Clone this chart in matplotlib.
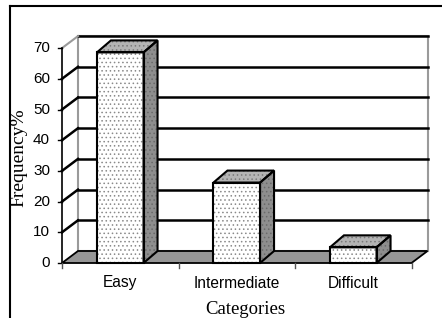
import matplotlib.pyplot as plt
from matplotlib.patches import Polygon

categories = ["Easy", "Intermediate", "Difficult"]
frequency = [68.6, 26.2, 5.1]
y_ticks = [0, 10, 20, 30, 40, 50, 60, 70]

plt.rcParams["hatch.linewidth"] = 0.6

W, H = 442, 318
fig = plt.figure(figsize=(W / 100, H / 100), dpi=100)
ax = fig.add_axes([0, 0, 1, 1])

# pixel scale of the front plane
px_x = 116.5   # px per category
px_y = 3.07    # px per percent
ax.set_xlim(-0.5 - 62 / px_x, -0.5 + (W - 62) / px_x)
ax.set_ylim(-55 / px_y, (H - 55) / px_y)
ax.axis("off")

# depth offsets (walls / bars)
dxw, dyw = 16 / px_x, 12 / px_y
dxb, dyb = 14 / px_x, 12 / px_y
x0, x1 = -0.5, len(categories) - 0.5
ymax = y_ticks[-1]
wall_grey = "#9a9a9a"

# back wall
ax.add_patch(Polygon([(x0 + dxw, dyw), (x1 + dxw, dyw), (x1 + dxw, ymax + dyw),
                      (x0 + dxw, ymax + dyw)], closed=True, fc="white",
                     ec=wall_grey, lw=1.5, zorder=1))
for t in y_ticks[1:]:
    ax.plot([x0 + dxw, x1 + dxw], [t + dyw, t + dyw], color="black", lw=1.8, zorder=2)
# side wall
for t in y_ticks[1:-1]:
    ax.plot([x0, x0 + dxw], [t, t + dyw], color="black", lw=1.8, zorder=2)
ax.plot([x0, x0 + dxw], [ymax, ymax + dyw], color=wall_grey, lw=1.5, zorder=2)

# floor
ax.add_patch(Polygon([(x0, 0), (x1, 0), (x1 + dxw, dyw), (x0 + dxw, dyw)], closed=True,
                     fc="#969696", ec="black", lw=1.3, zorder=3))

# front value axis
ax.plot([x0, x0], [0, ymax], color="black", lw=1.2, zorder=6)
for t in y_ticks:
    ax.plot([x0 - 4 / px_x, x0], [t, t], color="black", lw=1.0, zorder=6)
    ax.text(x0 - 12 / px_x, t, str(t), ha="right", va="center",
            family="Liberation Sans", fontsize=11)

# category ticks and labels
for k in range(len(categories) + 1):
    ax.plot([x0 + k, x0 + k], [0, -5 / px_y], color="#555555", lw=1.0, zorder=6)
for i, c in enumerate(categories):
    ax.text(i, -20 / px_y, c, ha="center", va="center",
            family="Liberation Sans", fontsize=11.2)

# bars
bw = 0.40
for i, v in enumerate(frequency):
    l, r = i - bw / 2, i + bw / 2
    faces = [
        ([(l, 0), (r, 0), (r, v), (l, v)], "white", "#8a8a8a"),
        ([(l, v), (r, v), (r + dxb, v + dyb), (l + dxb, v + dyb)], "#b4b4b4", "#7a7a7a"),
        ([(r, 0), (r + dxb, dyb), (r + dxb, v + dyb), (r, v)], "#8e8e8e", "#6a6a6a"),
    ]
    for pts, fc, hc in faces:
        ax.add_patch(Polygon(pts, closed=True, fc=fc, ec=hc, hatch="....", lw=0, zorder=4))
        ax.add_patch(Polygon(pts, closed=True, fill=False, ec="black", lw=1.5, zorder=5))

# axis titles
fig.text(245 / W, 4 / H, "Categories", ha="center", va="baseline",
         family="Liberation Serif", fontsize=13.5)
fig.text(19 / W, 1 - 158 / H, "Frequency%", ha="center", va="center", rotation=90,
         family="Liberation Serif", fontsize=14)

# outer chart frame
fig.add_artist(plt.Line2D([10 / W, 10 / W], [0, 1 - 6 / H], color="black", lw=1.5))
fig.add_artist(plt.Line2D([10 / W, 1], [1 - 6 / H, 1 - 6 / H], color="black", lw=1.5))

fig.savefig("out.png", dpi=100)
